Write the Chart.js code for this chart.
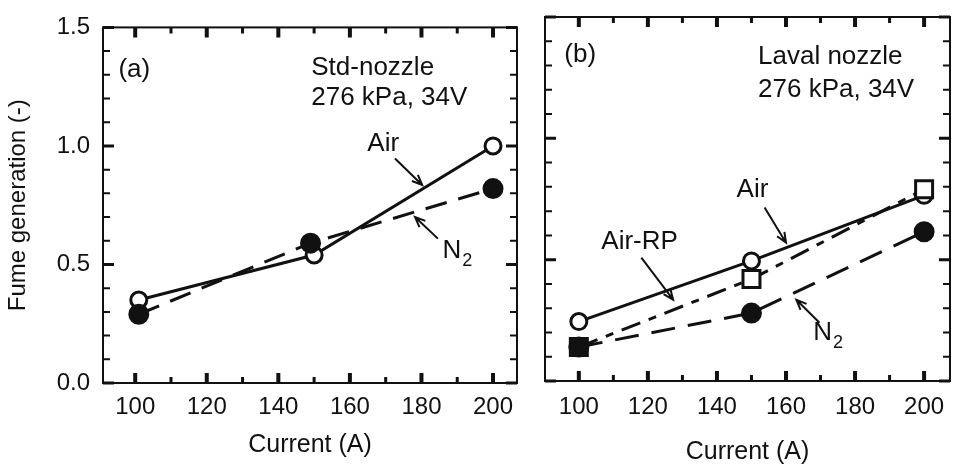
<!DOCTYPE html>
<html>
<head>
<meta charset="utf-8">
<script src="https://cdn.jsdelivr.net/npm/chart.js@4.4.0/dist/chart.umd.min.js"></script>
<style>
  html, body { margin: 0; padding: 0; background: #fff; overflow: hidden; }
  #wrap { position: relative; width: 960px; height: 465px; overflow: hidden; }
  #chartA { position: absolute; left: 0; top: 0; }
  #chartB { position: absolute; left: 530px; top: 0; }
</style>
</head>
<body>
<div id="wrap">
  <canvas id="chartA" width="530" height="465"></canvas>
  <canvas id="chartB" width="435" height="465"></canvas>
</div>
<script>
// panel (a) - standard nozzle
const currentA = [101, 150, 200];
const airA = [0.35, 0.54, 1.0];
const currentN2A = [101, 149, 200];
const n2A = [0.29, 0.59, 0.82];

// panel (b) - laval nozzle
const currentB = [100, 150, 200];
const airB = [0.245, 0.495, 0.765];
const airRpB = [0.14, 0.42, 0.79];
const n2B = [0.14, 0.28, 0.615];

// axis ticks
const xTicks = [100, 120, 140, 160, 180, 200];
const xMinor = [110, 130, 150, 170, 190];
const yTicks = [0, 0.5, 1.0, 1.5];
const yMinor = [0.1, 0.2, 0.3, 0.4, 0.6, 0.7, 0.8, 0.9, 1.1, 1.2, 1.3, 1.4];

const INK = '#111';
const FONT = "'Liberation Sans', Arial, sans-serif";

const pts = (xs, ys) => xs.map((x, i) => ({ x: x, y: ys[i] }));

// frame + inward ticks + annotations
const decor = {
    id: 'decor',
    afterDraw(chart, args, opts) {
        const { ctx, chartArea: a } = chart;
        const x = chart.scales.x, y = chart.scales.y;
        ctx.save();
        ctx.strokeStyle = INK;
        ctx.lineWidth = 2;
        ctx.strokeRect(a.left, a.top, a.right - a.left, a.bottom - a.top);

        const xTick = (v, len, w) => {
            const px = x.getPixelForValue(v);
            ctx.lineWidth = w;
            ctx.beginPath();
            ctx.moveTo(px, a.bottom); ctx.lineTo(px, a.bottom - len);
            ctx.moveTo(px, a.top); ctx.lineTo(px, a.top + len);
            ctx.stroke();
        };
        const yTick = (v, len, w) => {
            const py = y.getPixelForValue(v);
            ctx.lineWidth = w;
            ctx.beginPath();
            ctx.moveTo(a.left, py); ctx.lineTo(a.left + len, py);
            ctx.moveTo(a.right, py); ctx.lineTo(a.right - len, py);
            ctx.stroke();
        };
        xTicks.forEach(v => xTick(v, 10, 4));
        xMinor.forEach(v => xTick(v, 6, 3));
        yTicks.forEach(v => yTick(v, 11, 3));
        yMinor.forEach(v => yTick(v, 7, 2));

        ctx.fillStyle = INK;
        ctx.textBaseline = 'middle';
        (opts.texts || []).forEach(t => {
            ctx.font = (t.size || 26) + 'px ' + FONT;
            ctx.textAlign = t.align || 'left';
            const px = x.getPixelForValue(t.x), py = y.getPixelForValue(t.y);
            ctx.fillText(t.text, px, py);
            if (t.sub) {
                const w = ctx.measureText(t.text).width;
                const off = ctx.textAlign === 'center' ? w / 2 : w;
                ctx.font = '18px ' + FONT;
                ctx.textAlign = 'left';
                ctx.fillText(t.sub, px + off + 1, py + 10);
            }
        });

        ctx.lineWidth = 2;
        (opts.arrows || []).forEach(r => {
            const x1 = x.getPixelForValue(r[0]), y1 = y.getPixelForValue(r[1]);
            const x2 = x.getPixelForValue(r[2]), y2 = y.getPixelForValue(r[3]);
            const ang = Math.atan2(y2 - y1, x2 - x1);
            ctx.beginPath();
            ctx.moveTo(x1, y1); ctx.lineTo(x2, y2);
            ctx.moveTo(x2 - 11 * Math.cos(ang - 0.4), y2 - 11 * Math.sin(ang - 0.4));
            ctx.lineTo(x2, y2);
            ctx.lineTo(x2 - 11 * Math.cos(ang + 0.4), y2 - 11 * Math.sin(ang + 0.4));
            ctx.stroke();
        });
        ctx.restore();
    }
};

function makeScales(o) {
    return {
        x: {
            type: 'linear',
            min: o.xmin, max: o.xmax,
            grid: { display: false, drawTicks: false },
            border: { display: false },
            afterBuildTicks: s => { s.ticks = xTicks.map(v => ({ value: v })); },
            afterFit: s => { s.height = o.xh; },
            ticks: {
                autoSkip: false, maxRotation: 0, padding: o.xpad,
                color: INK, font: { family: FONT, size: 24 }
            },
            title: {
                display: true, text: 'Current (A)', color: INK,
                font: { family: FONT, size: 25, lineHeight: o.tlh },
                padding: { top: 0, bottom: o.tpad }
            }
        },
        y: {
            type: 'linear',
            min: 0, max: 1.5,
            grid: { display: false, drawTicks: false },
            border: { display: false },
            afterBuildTicks: s => { s.ticks = yTicks.map(v => ({ value: v })); },
            afterFit: s => { s.width = o.yw; },
            ticks: {
                display: o.ylabels, padding: 13, color: INK,
                font: { family: FONT, size: 24 },
                callback: v => v.toFixed(1)
            },
            title: {
                display: o.ylabels, text: 'Fume generation (-)', color: INK,
                font: { family: FONT, size: 24 },
                padding: { top: 4, bottom: 0 }
            }
        }
    };
}

const lineSet = (label, data, dash, style, bg, radius) => ({
    label: label,
    data: data,
    borderColor: INK,
    borderWidth: 3,
    borderDash: dash,
    pointStyle: style,
    pointRadius: radius,
    pointBorderWidth: 3,
    pointBorderColor: INK,
    pointBackgroundColor: bg,
    tension: 0
});

new Chart(document.getElementById('chartA'), {
    type: 'line',
    data: {
        datasets: [
            lineSet('N2', pts(currentN2A, n2A), [22, 12], 'circle', INK, 9),
            lineSet('Air', pts(currentA, airA), [], 'circle', '#fff', 8)
        ]
    },
    options: {
        responsive: false,
        animation: false,
        layout: { padding: { top: 18, right: 13, left: 0, bottom: 0 } },
        plugins: {
            legend: { display: false },
            tooltip: { enabled: false },
            decor: {
                texts: [
                    { text: '(a)', x: 95.3, y: 1.32 },
                    { text: 'Std-nozzle', x: 149.2, y: 1.33 },
                    { text: '276 kPa, 34V', x: 149.2, y: 1.205 },
                    { text: 'Air', x: 169.3, y: 1.008, align: 'center' },
                    { text: 'N', x: 188.5, y: 0.556, align: 'center', sub: '2' }
                ],
                arrows: [
                    [172.6, 0.947, 180.2, 0.835],
                    [184.6, 0.609, 178.2, 0.700]
                ]
            }
        },
        scales: makeScales({ xmin: 91, xmax: 206.7, xh: 82, yw: 103, xpad: 10, tpad: 5, tlh: 1.2, ylabels: true })
    },
    plugins: [decor]
});

new Chart(document.getElementById('chartB'), {
    type: 'line',
    data: {
        datasets: [
            lineSet('N2', pts(currentB, n2B), [24, 13], 'circle', INK, 9),
            lineSet('Air-RP', pts(currentB, airRpB), [20, 9, 8, 9], 'rect', [INK, '#fff', '#fff'], 12),
            lineSet('Air', pts(currentB, airB), [], 'circle', '#fff', 8)
        ]
    },
    options: {
        responsive: false,
        animation: false,
        layout: { padding: { top: 17, right: 3, left: 0, bottom: 0 } },
        plugins: {
            legend: { display: false },
            tooltip: { enabled: false },
            decor: {
                texts: [
                    { text: '(b)', x: 95.8, y: 1.345 },
                    { text: 'Laval nozzle', x: 151.9, y: 1.335 },
                    { text: '276 kPa, 34V', x: 151.9, y: 1.198 },
                    { text: 'Air', x: 150.3, y: 0.789, align: 'center' },
                    { text: 'Air-RP', x: 117.6, y: 0.574, align: 'center' },
                    { text: 'N', x: 170.6, y: 0.198, align: 'center', sub: '2' }
                ],
                arrows: [
                    [153.8, 0.715, 160.0, 0.570],
                    [118.1, 0.508, 127.3, 0.335],
                    [169.7, 0.240, 163.0, 0.335]
                ]
            }
        },
        scales: makeScales({ xmin: 90.2, xmax: 207.5, xh: 84, yw: 12, xpad: 12, tpad: 0, tlh: 1, ylabels: false })
    },
    plugins: [decor]
});
</script>
</body>
</html>
